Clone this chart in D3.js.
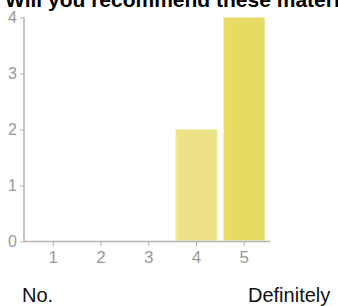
<!DOCTYPE html>
<html>
<head>
<meta charset="utf-8">
<script src="https://cdn.jsdelivr.net/npm/d3@7"></script>
<style>
  body { margin: 0; background: #fff; }
  svg { display: block; font-family: "Liberation Sans", Arial, sans-serif; }
</style>
</head>
<body>
<svg id="chart" width="338" height="306"></svg>
<script>
var title = "Will you recommend these materials?";
var categories = ["1", "2", "3", "4", "5"];
var counts = [0, 0, 0, 2, 4];
var barColors = ["#ece386", "#ece386", "#ece386", "#ece386", "#e6dc63"];
var yTicks = [0, 1, 2, 3, 4];
var lowLabel = "No.";
var highLabel = "Definitely";

var svg = d3.select("#chart");

var axisLeft = 24, axisRight = 270, axisBottom = 241.5, axisTop = 17.5;

var x = d3.scaleBand()
  .domain(categories)
  .range([29.5, 268])
  .paddingInner(0.135)
  .paddingOuter(0.065);

var y = d3.scaleLinear()
  .domain([0, 4])
  .range([axisBottom, axisTop]);

// title, clipped at the top like the original
svg.append("text")
  .attr("x", 5)
  .attr("y", 7)
  .attr("font-size", 21)
  .attr("font-weight", "bold")
  .attr("fill", "#000")
  .text(title);

// bars
svg.append("g")
  .selectAll("rect")
  .data(counts)
  .enter()
  .append("rect")
  .attr("x", function(d, i) { return x(categories[i]); })
  .attr("y", function(d) { return y(d); })
  .attr("width", x.bandwidth())
  .attr("height", function(d) { return axisBottom - 1 - y(d); })
  .attr("fill", function(d, i) { return barColors[i]; })
  .attr("stroke", "#f6f0b8")
  .attr("stroke-width", 1)
  .style("display", function(d) { return d > 0 ? null : "none"; });

var gray = "#b3b3b3";

// y axis
var yAxis = svg.append("g")
  .attr("transform", "translate(" + axisLeft + ",0)")
  .call(d3.axisLeft(y).tickValues(yTicks).tickSize(4).tickPadding(3).tickFormat(d3.format("d")));
yAxis.select(".domain").remove();
yAxis.selectAll("line").attr("stroke", gray).attr("stroke-width", 1);
yAxis.selectAll("text")
  .attr("font-size", 16)
  .attr("fill", "#999")
  .attr("font-family", "Liberation Sans, Arial, sans-serif");

// x axis
var xAxis = svg.append("g")
  .attr("transform", "translate(0," + axisBottom + ")")
  .call(d3.axisBottom(x).tickSize(5).tickPadding(4));
xAxis.select(".domain").remove();
xAxis.selectAll("line").attr("stroke", gray).attr("stroke-width", 1);
xAxis.selectAll("text")
  .attr("font-size", 17)
  .attr("fill", "#999")
  .attr("font-family", "Liberation Sans, Arial, sans-serif");

// axis lines
svg.append("line")
  .attr("x1", axisLeft).attr("x2", axisLeft)
  .attr("y1", axisTop).attr("y2", axisBottom)
  .attr("stroke", gray).attr("stroke-width", 1.5);
svg.append("line")
  .attr("x1", axisLeft).attr("x2", axisRight)
  .attr("y1", axisBottom).attr("y2", axisBottom)
  .attr("stroke", gray).attr("stroke-width", 1.5);

// scale end labels
svg.append("text")
  .attr("x", 22)
  .attr("y", 302)
  .attr("font-size", 20)
  .attr("fill", "#111")
  .text(lowLabel);
svg.append("text")
  .attr("x", 248)
  .attr("y", 302)
  .attr("font-size", 20)
  .attr("fill", "#111")
  .text(highLabel);
</script>
</body>
</html>
